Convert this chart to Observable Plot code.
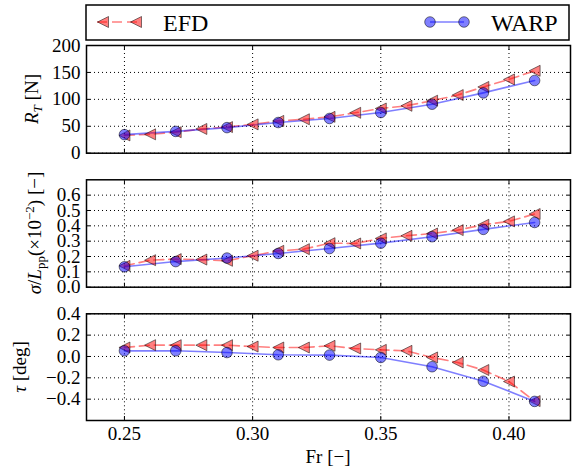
<!DOCTYPE html>
<html><head><meta charset="utf-8">
<script src="https://cdn.jsdelivr.net/npm/d3@7"></script>
<script src="https://cdn.jsdelivr.net/npm/@observablehq/plot@0.6"></script>
<style>
body{margin:0;background:#fff;}
#chart{position:relative;width:572px;height:473px;overflow:hidden;}
#chart svg{position:absolute;left:0;top:0;}
#chart svg text, #chart svg tspan{font-family:"Liberation Serif","DejaVu Serif",serif !important;}
</style></head><body><div id="chart"></div>
<script>
// ---- data ----
const efdFr = [0.25,0.26,0.27,0.28,0.29,0.30,0.31,0.32,0.33,0.34,0.35,0.36,0.37,0.38,0.39,0.40,0.41];
const warpFr = [0.25,0.27,0.29,0.31,0.33,0.35,0.37,0.39,0.41];
const efdRT = [33,35,39,45,48.5,53.5,60,63,67.5,75,83,88,97.5,108,123,137,153];
const warpRT = [34.5,40.5,47.5,57,64.5,75.5,91,112,135];
const efdSigma = [0.139,0.176,0.183,0.180,0.172,0.205,0.237,0.248,0.287,0.285,0.318,0.335,0.350,0.372,0.407,0.429,0.477];
const warpSigma = [0.133,0.167,0.190,0.220,0.252,0.287,0.329,0.377,0.422];
const efdTau = [0.084,0.106,0.106,0.106,0.106,0.093,0.084,0.084,0.100,0.075,0.062,0.053,-0.009,-0.056,-0.127,-0.235,-0.418];
const warpTau = [0.053,0.053,0.037,0.016,0.013,-0.009,-0.096,-0.232,-0.421];
const xTicks = [0.25,0.30,0.35,0.40];
const rtTicks = [0,50,100,150,200];
const sigmaTicks = [0,0.1,0.2,0.3,0.4,0.5,0.6];
const tauTicks = [-0.4,-0.2,0,0.2,0.4];
const seriesNames = ["EFD","WARP"];

const FONT = "Liberation Serif";
const W = 572, H = 473, ML = 86, MR = 2;
const xDomain = [0.2352, 0.424];
const chart = document.getElementById("chart");

// matplotlib-like "<" triangle (isosceles, equal width and height)
const triLeft = {
  draw(ctx, size) {
    const r = Math.sqrt(size / Math.PI);
    ctx.moveTo(-r, 0); ctx.lineTo(r, -r); ctx.lineTo(r, r); ctx.closePath();
  }
};

function panel({top, bottom, yDomain, yTicks, yFormat, efd, warp, showX}) {
  const efdData = efdFr.map((x, i) => ({x, y: efd[i]}));
  const warpData = warpFr.map((x, i) => ({x, y: warp[i]}));
  const grid = {stroke: "black", strokeOpacity: 1, strokeDasharray: "1,3", strokeWidth: 1};
  return Plot.plot({
    width: W, height: H,
    marginLeft: ML, marginRight: MR, marginTop: top, marginBottom: H - bottom,
    style: {background: "transparent", fontFamily: FONT, fontSize: "19px", color: "black", overflow: "visible"},
    x: {domain: xDomain},
    y: {domain: yDomain},
    marks: [
      Plot.gridX(xTicks, grid),
      Plot.gridY(yTicks, grid),
      Plot.axisX(xTicks, {anchor: "bottom", tickSize: -4, fill: "none", label: null}),
      Plot.axisX(xTicks, {anchor: "top", tickSize: -4, fill: "none", label: null}),
      Plot.axisY(yTicks, {anchor: "left", tickSize: -4, fill: "none", label: null}),
      Plot.axisY(yTicks, {anchor: "right", tickSize: -4, fill: "none", label: null}),
      Plot.axisY(yTicks, {anchor: "left", tickSize: 0, tickPadding: 6, stroke: "none", tickFormat: yFormat, label: null, fontSize: 19}),
      showX ? Plot.axisX(xTicks, {anchor: "bottom", tickSize: 0, tickPadding: 6, stroke: "none", tickFormat: ".2f", label: null, fontSize: 19}) : null,
      Plot.line(efdData, {x: "x", y: "y", stroke: "red", strokeOpacity: 0.5, strokeWidth: 1.6, strokeDasharray: "10,5"}),
      Plot.line(warpData, {x: "x", y: "y", stroke: "blue", strokeOpacity: 0.5, strokeWidth: 1.6}),
      Plot.dot(efdData, {x: "x", y: "y", symbol: triLeft, r: 5.5, fill: "red", fillOpacity: 0.5, stroke: "black", strokeOpacity: 0.5, strokeWidth: 1}),
      Plot.dot(warpData, {x: "x", y: "y", symbol: "circle", r: 5.3, fill: "blue", fillOpacity: 0.5, stroke: "black", strokeOpacity: 0.5, strokeWidth: 1}),
      Plot.frame({stroke: "black", strokeWidth: 1.5})
    ]
  });
}

chart.append(panel({top: 45, bottom: 152.7, yDomain: [0, 200], yTicks: rtTicks, yFormat: "d", efd: efdRT, warp: warpRT, showX: false}));
chart.append(panel({top: 179.3, bottom: 286.7, yDomain: [0, 0.7], yTicks: sigmaTicks, yFormat: ".1f", efd: efdSigma, warp: warpSigma, showX: false}));
chart.append(panel({top: 313.3, bottom: 420, yDomain: [-0.6, 0.4], yTicks: tauTicks, yFormat: ".1f", efd: efdTau, warp: warpTau, showX: true}));

// ---- legend and axis labels overlay ----
const svg = d3.select(chart).append("svg").attr("width", W).attr("height", H)
  .style("font-family", FONT);
const lg = svg.append("g");
lg.append("rect").attr("x", 86).attr("y", 5).attr("width", 483).attr("height", 35)
  .attr("fill", "white").attr("stroke", "black").attr("stroke-width", 1.5);
lg.append("line").attr("x1", 97).attr("x2", 140).attr("y1", 22).attr("y2", 22)
  .attr("stroke", "red").attr("stroke-opacity", 0.5).attr("stroke-width", 1.6).attr("stroke-dasharray", "10,5");
const tri = d3.symbol(triLeft, Math.PI * 5.5 * 5.5)();
[103, 136].forEach(x => lg.append("path").attr("d", tri)
  .attr("transform", `translate(${x},22)`)
  .attr("fill", "red").attr("fill-opacity", 0.5).attr("stroke", "black").attr("stroke-opacity", 0.5));
lg.append("text").attr("x", 163).attr("y", 31).attr("font-size", 24).text(seriesNames[0]);
lg.append("line").attr("x1", 430).attr("x2", 464).attr("y1", 22).attr("y2", 22)
  .attr("stroke", "blue").attr("stroke-opacity", 0.5).attr("stroke-width", 1.6);
[430, 464].forEach(x => lg.append("circle").attr("cx", x).attr("cy", 22).attr("r", 5.3)
  .attr("fill", "blue").attr("fill-opacity", 0.5).attr("stroke", "black").attr("stroke-opacity", 0.5));
lg.append("text").attr("x", 491).attr("y", 31).attr("font-size", 24).text(seriesNames[1]);

// x label
svg.append("text").attr("x", 328).attr("y", 463).attr("text-anchor", "middle").attr("font-size", 19).text("Fr [−]");

function ylab(x, y, parts) {
  const t = svg.append("text").attr("transform", `translate(${x},${y}) rotate(-90)`)
    .attr("text-anchor", "middle").attr("font-size", 19);
  parts.forEach(p => {
    const s = t.append("tspan").text(p.t);
    if (p.i) s.attr("font-style", "italic");
    if (p.sz) s.attr("font-size", p.sz);
    if (p.dy) s.attr("dy", p.dy);
  });
}
ylab(38, 99, [{t: "R", i: 1}, {t: "T", i: 1, sz: 13, dy: 4}, {t: " [N]", dy: -4}]);
ylab(41, 233, [{t: "σ", i: 1}, {t: "/"}, {t: "L", i: 1}, {t: "pp", sz: 13, dy: 4}, {t: "(×10", dy: -4}, {t: "−2", sz: 13, dy: -7}, {t: ") [−]", dy: 7}]);
ylab(26, 367, [{t: "τ", i: 1}, {t: " [deg]"}]);
</script></body></html>
